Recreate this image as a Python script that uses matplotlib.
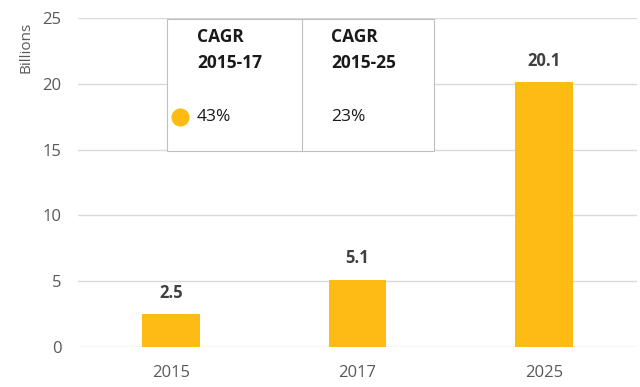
import matplotlib
matplotlib.use("Agg")
import matplotlib.pyplot as plt
from matplotlib.patches import Rectangle

years = ["2015", "2017", "2025"]
values = [2.5, 5.1, 20.1]
value_labels = ["2.5", "5.1", "20.1"]
yticks = [0, 5, 10, 15, 20, 25]
cagr_headers = [["CAGR", "2015-17"], ["CAGR", "2015-25"]]
cagr_values = ["43%", "23%"]

plt.rcParams['font.family'] = ['Open Sans', 'DejaVu Sans']
W, H = 640, 387
fig = plt.figure(figsize=(6.4, 3.87), dpi=100)
ax = fig.add_axes([78 / W, 1 - 347 / H, (637 - 78) / W, (347 - 18) / H])

bar_color = "#FDBB14"
x = range(len(years))
ax.bar(x, values, width=0.31, color=bar_color, zorder=2)
for xi, v, lab in zip(x, values, value_labels):
    ax.text(xi, v + 0.95, lab, ha="center", va="bottom", fontsize=12,
            fontweight="bold", color="#404040")

ax.set_xlim(-0.5, 2.5)
ax.set_ylim(0, 25)
ax.set_yticks(yticks)
ax.set_xticks(list(x))
ax.set_xticklabels(years)
ax.tick_params(axis="both", length=0, labelsize=12, labelcolor="#595959")
ax.tick_params(axis="y", pad=12)
ax.tick_params(axis="x", pad=13)
ax.grid(axis="y", color="#D9D9D9", linewidth=1, zorder=0)
for s in ax.spines.values():
    s.set_visible(False)
ax.set_ylabel("Billions", fontsize=11, color="#595959")
ax.yaxis.set_label_coords(-0.08, 0.91)

def fx(px):
    return px / W

def fy(py):
    return 1 - py / H

box = Rectangle((fx(167), fy(151)), fx(434) - fx(167), fy(19) - fy(151),
                transform=fig.transFigure, facecolor="white",
                edgecolor="#BFBFBF", linewidth=0.8, zorder=5)
fig.add_artist(box)
fig.add_artist(plt.Line2D([fx(302), fx(302)], [fy(19), fy(151)],
                          transform=fig.transFigure, color="#BFBFBF",
                          linewidth=0.8, zorder=6))
col_x = [197, 331]
for cx, hdr, val in zip(col_x, cagr_headers, cagr_values):
    fig.text(fx(cx), fy(37), hdr[0], fontsize=12.5, fontweight="bold",
             color="#1A1A1A", va="center", ha="left", zorder=7)
    fig.text(fx(cx), fy(63), hdr[1], fontsize=12.5, fontweight="bold",
             color="#1A1A1A", va="center", ha="left", zorder=7)
    fig.text(fx(cx), fy(117), val, fontsize=12.5, color="#1A1A1A",
             va="center", ha="left", zorder=7)
fig.add_artist(plt.Line2D([fx(180)], [fy(117)], marker="o", markersize=12,
                          color=bar_color, transform=fig.transFigure,
                          zorder=7))

fig.savefig("out.png", dpi=100)
